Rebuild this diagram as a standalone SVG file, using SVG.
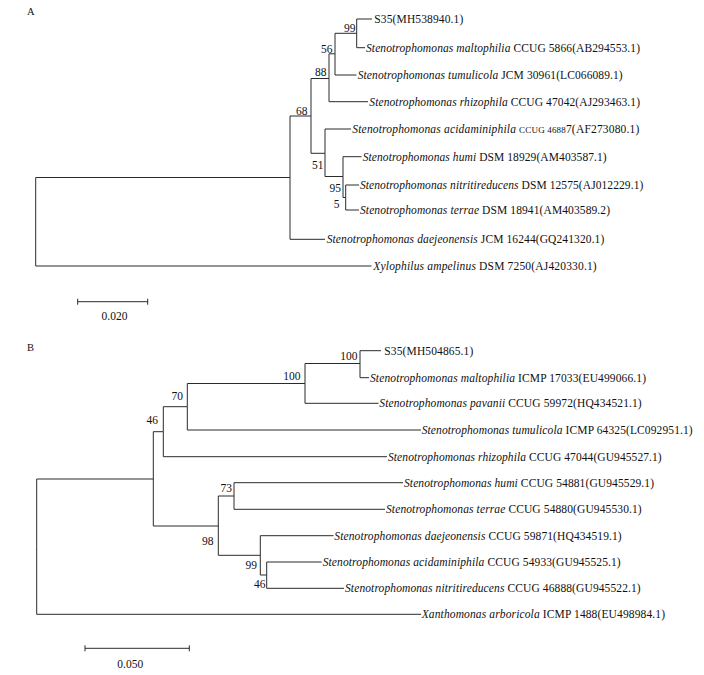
<svg xmlns="http://www.w3.org/2000/svg" width="704" height="675" viewBox="0 0 704 675">
<style>
text{font-family:"Liberation Serif","Times New Roman",serif;fill:#111}
.lab{font-size:11.5px}
.bs{font-size:11.5px;text-anchor:end}
.pl{font-size:10.5px}
.sc{font-size:11.5px;text-anchor:middle}
.i{font-style:italic}
.sm{font-size:9px}
.br{fill:none;stroke:#2a2a2a;stroke-width:1}
</style>
<rect width="704" height="675" fill="#fff"/>
<text class="pl" x="27" y="15">A</text>
<text class="pl" x="27" y="351">B</text>

<g id="connectors">
<!-- Panel A -->
<path class="br" d="M35.7,222 V177.5 H290"/>
<path class="br" d="M35.7,222 V266 H371.5"/>
<path class="br" d="M290,177.5 V116 H311"/>
<path class="br" d="M290,177.5 V239.3 H325"/>
<path class="br" d="M311,116 V78.5 H329"/>
<path class="br" d="M311,116 V153.3 H325"/>
<path class="br" d="M329,78.5 V53.8 H335"/>
<path class="br" d="M329,78.5 V101.7 H368"/>
<path class="br" d="M335,53.8 V33.3 H356.7"/>
<path class="br" d="M335,53.8 V75 H356.5"/>
<path class="br" d="M356.7,33.3 V19 H372"/>
<path class="br" d="M356.7,33.3 V47.7 H365"/>
<path class="br" d="M325,153.3 V129 H351"/>
<path class="br" d="M325,153.3 V176.5 H343"/>
<path class="br" d="M343,176.5 V156.7 H361.5"/>
<path class="br" d="M343,176.5 V197.5 H345.7"/>
<path class="br" d="M345.7,197.5 V185 H359"/>
<path class="br" d="M345.7,197.5 V210 H359"/>
<!-- Panel B -->
<path class="br" d="M36.7,546.7 V479 H153.3"/>
<path class="br" d="M36.7,546.7 V614.3 H421"/>
<path class="br" d="M153.3,479 V431.7 H163.3"/>
<path class="br" d="M153.3,479 V526 H218.3"/>
<path class="br" d="M163.3,431.7 V406.7 H187.3"/>
<path class="br" d="M163.3,431.7 V456.7 H387"/>
<path class="br" d="M187.3,406.7 V383.5 H305"/>
<path class="br" d="M187.3,406.7 V430 H421"/>
<path class="br" d="M305,383.5 V363.5 H360"/>
<path class="br" d="M305,383.5 V403.3 H378.5"/>
<path class="br" d="M360,363.5 V350.7 H381"/>
<path class="br" d="M360,363.5 V377.7 H369"/>
<path class="br" d="M218.3,526 V496 H234"/>
<path class="br" d="M218.3,526 V555.3 H260.3"/>
<path class="br" d="M234,496 V482.7 H403"/>
<path class="br" d="M234,496 V509.3 H385"/>
<path class="br" d="M260.3,555.3 V535.7 H333.5"/>
<path class="br" d="M260.3,555.3 V575 H266.7"/>
<path class="br" d="M266.7,575 V562 H321.7"/>
<path class="br" d="M266.7,575 V588.3 H344"/>
</g>

<!-- Panel A internal nodes -->
<g id="a-n99"><text class="bs" x="355.5" y="32">99</text></g>
<g id="a-n56"><text class="bs" x="332.5" y="52.5">56</text></g>
<g id="a-n88"><text class="bs" x="326.5" y="76">88</text></g>
<g id="a-n68"><text class="bs" x="307.5" y="114.5">68</text></g>
<g id="a-n51"><text class="bs" x="323.5" y="169">51</text></g>
<g id="a-n95"><text class="bs" x="341" y="191.5">95</text></g>
<g id="a-n5"><text class="bs" x="339.5" y="208">5</text></g>

<!-- Panel A leaves -->
<g id="a-s35"><text class="lab" x="374.3" y="23" textLength="89" lengthAdjust="spacing">S35(MH538940.1)</text></g>
<g id="a-maltophilia"><text class="lab" x="366" y="51.7" textLength="274" lengthAdjust="spacing"><tspan class="i">Stenotrophomonas maltophilia</tspan> CCUG 5866(AB294553.1)</text></g>
<g id="a-tumulicola"><text class="lab" x="357.7" y="79" textLength="265" lengthAdjust="spacing"><tspan class="i">Stenotrophomonas tumulicola</tspan> JCM 30961(LC066089.1)</text></g>
<g id="a-rhizophila"><text class="lab" x="369.3" y="105.7" textLength="270.7" lengthAdjust="spacing"><tspan class="i">Stenotrophomonas rhizophila</tspan> CCUG 47042(AJ293463.1)</text></g>
<g id="a-acidaminiphila"><text class="lab" x="352.3" y="133" textLength="287" lengthAdjust="spacing"><tspan class="i">Stenotrophomonas acidaminiphila</tspan> <tspan class="sm">CCUG 4688</tspan>7(AF273080.1)</text></g>
<g id="a-humi"><text class="lab" x="362.7" y="160.7" textLength="244" lengthAdjust="spacing"><tspan class="i">Stenotrophomonas humi</tspan> DSM 18929(AM403587.1)</text></g>
<g id="a-nitritireducens"><text class="lab" x="360" y="189" textLength="283.3" lengthAdjust="spacing"><tspan class="i">Stenotrophomonas nitritireducens</tspan> DSM 12575(AJ012229.1)</text></g>
<g id="a-terrae"><text class="lab" x="360" y="214" textLength="250" lengthAdjust="spacing"><tspan class="i">Stenotrophomonas terrae</tspan> DSM 18941(AM403589.2)</text></g>
<g id="a-daejeonensis"><text class="lab" x="326.7" y="243.3" textLength="277.6" lengthAdjust="spacing"><tspan class="i">Stenotrophomonas daejeonensis</tspan> JCM 16244(GQ241320.1)</text></g>
<g id="a-xylophilus"><text class="lab" x="373.3" y="270" textLength="223.4" lengthAdjust="spacing"><tspan class="i">Xylophilus ampelinus</tspan> DSM 7250(AJ420330.1)</text></g>

<g id="a-scale">
<path class="br" d="M77.7,301.7 H147.7 M77.7,298.7 V304.7 M147.7,298.7 V304.7"/>
<text class="sc" x="114.5" y="320">0.020</text>
</g>

<!-- Panel B internal nodes -->
<g id="b-n100i"><text class="bs" x="357.5" y="360">100</text></g>
<g id="b-n100o"><text class="bs" x="300.5" y="380">100</text></g>
<g id="b-n70"><text class="bs" x="183" y="400">70</text></g>
<g id="b-n46"><text class="bs" x="158" y="424">46</text></g>
<g id="b-n73"><text class="bs" x="232" y="491.5">73</text></g>
<g id="b-n98"><text class="bs" x="213.5" y="545">98</text></g>
<g id="b-n99"><text class="bs" x="257" y="569">99</text></g>
<g id="b-n46i"><text class="bs" x="265.5" y="588">46</text></g>

<!-- Panel B leaves -->
<g id="b-s35"><text class="lab" x="384.3" y="354.7" textLength="89" lengthAdjust="spacing">S35(MH504865.1)</text></g>
<g id="b-maltophilia"><text class="lab" x="370" y="381.7" textLength="276" lengthAdjust="spacing"><tspan class="i">Stenotrophomonas maltophilia</tspan> ICMP 17033(EU499066.1)</text></g>
<g id="b-pavanii"><text class="lab" x="379.3" y="407.3" textLength="262.4" lengthAdjust="spacing"><tspan class="i">Stenotrophomonas pavanii</tspan> CCUG 59972(HQ434521.1)</text></g>
<g id="b-tumulicola"><text class="lab" x="421.7" y="434" textLength="271" lengthAdjust="spacing"><tspan class="i">Stenotrophomonas tumulicola</tspan> ICMP 64325(LC092951.1)</text></g>
<g id="b-rhizophila"><text class="lab" x="388" y="460.7" textLength="273.7" lengthAdjust="spacing"><tspan class="i">Stenotrophomonas rhizophila</tspan> CCUG 47044(GU945527.1)</text></g>
<g id="b-humi"><text class="lab" x="404" y="486.7" textLength="250" lengthAdjust="spacing"><tspan class="i">Stenotrophomonas humi</tspan> CCUG 54881(GU945529.1)</text></g>
<g id="b-terrae"><text class="lab" x="386" y="513.3" textLength="255.7" lengthAdjust="spacing"><tspan class="i">Stenotrophomonas terrae</tspan> CCUG 54880(GU945530.1)</text></g>
<g id="b-daejeonensis"><text class="lab" x="334.3" y="539.7" textLength="287.4" lengthAdjust="spacing"><tspan class="i">Stenotrophomonas daejeonensis</tspan> CCUG 59871(HQ434519.1)</text></g>
<g id="b-acidaminiphila"><text class="lab" x="322.7" y="566" textLength="298" lengthAdjust="spacing"><tspan class="i">Stenotrophomonas acidaminiphila</tspan> CCUG 54933(GU945525.1)</text></g>
<g id="b-nitritireducens"><text class="lab" x="345" y="592.3" textLength="295.7" lengthAdjust="spacing"><tspan class="i">Stenotrophomonas nitritireducens</tspan> CCUG 46888(GU945522.1)</text></g>
<g id="b-xanthomonas"><text class="lab" x="421.7" y="618.3" textLength="243.3" lengthAdjust="spacing"><tspan class="i">Xanthomonas arboricola</tspan> ICMP 1488(EU498984.1)</text></g>

<g id="b-scale">
<path class="br" d="M85,648.3 H189.3 M85,645.3 V651.3 M189.3,645.3 V651.3"/>
<text class="sc" x="130.3" y="668">0.050</text>
</g>
</svg>
